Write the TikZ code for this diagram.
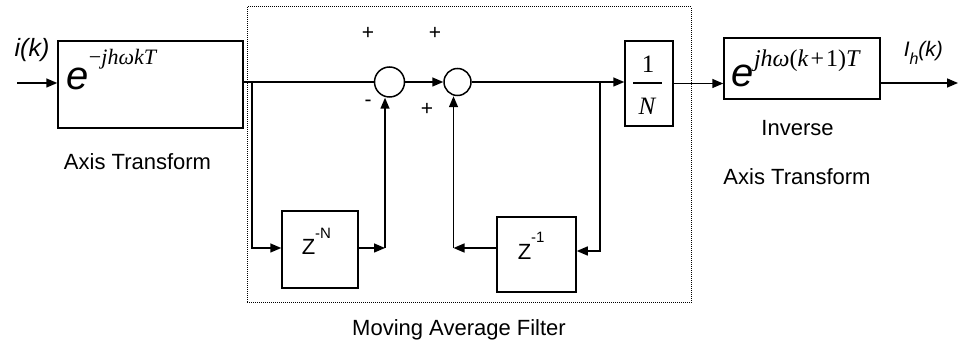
\documentclass[tikz,border=0pt]{standalone}
\usepackage{fontspec}
\setmainfont{Liberation Sans}
\newfontfamily\serifrm{Liberation Serif}
\usetikzlibrary{arrows.meta}
\begin{document}
\begin{tikzpicture}[x=1pt,y=-1pt,
  line width=1.5pt,
  arr/.style={-{Triangle[length=11pt,width=9pt]}},
  blk/.style={draw, line width=1.5pt, inner sep=0pt},
  sumc/.style={draw, circle, line width=1.5pt, inner sep=0pt},
  lbl/.style={font=\fontsize{22}{24}\selectfont, inner sep=0pt},
  sgn/.style={font=\fontsize{21}{22}\selectfont, inner sep=0pt},
  txt/.style={inner sep=0pt, anchor=base west}]
\useasboundingbox (0,0) rectangle (960,344);

% moving average frame
\node[draw, line width=1pt, dash pattern=on 1pt off 1pt,
      minimum width=444pt, minimum height=296pt, inner sep=0pt] (maf) at (469,155) {};

% blocks
\node[blk, minimum width=185pt, minimum height=87pt] (b1) at (150.5,84.5) {};
\node[blk, minimum width=156pt, minimum height=61pt] (b2) at (802,68.5) {};
\node[blk, minimum width=48pt, minimum height=85pt] (bN) at (649,83.5) {};
\node[blk, minimum width=76pt, minimum height=77pt] (zN) at (320,249.5) {};
\node[blk, minimum width=79pt, minimum height=75pt] (z1) at (536.5,254.5) {};
\node[sumc, minimum size=30pt] (c1) at (389.5,82) {};
\node[sumc, minimum size=27pt] (c2) at (457.5,82) {};

% block contents
\node[txt] (b1t) at (66,90) {{\fontsize{40}{40}\selectfont\itshape e}\raisebox{25pt}{\serifrm\fontsize{22}{22}\selectfont −\itshape jhωkT}};
\node[txt] (b2t) at (731,87) {{\fontsize{40}{40}\selectfont\itshape e}\raisebox{20pt}{\serifrm\fontsize{24}{24}\selectfont \textit{jhω}(\textit{k}\kern2pt+\kern2pt1)\textit{T}}};
\node[inner sep=0pt, anchor=base, font=\serifrm\fontsize{25}{25}\selectfont] (one) at (648,73) {1};
\node[inner sep=0pt, anchor=base, font=\serifrm\fontsize{25}{25}\selectfont\itshape] (enN) at (647,115) {N};
\draw[line width=1.2pt] (633,83) -- (662,83);
\node[txt] (zNt) at (301,255) {{\fontsize{22}{22}\selectfont Z}\raisebox{17pt}{\fontsize{15}{15}\selectfont -N}};
\node[txt] (z1t) at (517,260) {{\fontsize{22}{22}\selectfont Z}\raisebox{17pt}{\fontsize{15}{15}\selectfont -1}};

% connectors
\coordinate (in) at (17,83);
\coordinate (br1) at (252,82);
\coordinate (j1) at (385,248);
\coordinate (br2) at (600,82);
\coordinate (j2) at (453.5,248);
\coordinate (out) at (958,83);

\draw[arr] (in) -- (in -| b1.west);
\draw (b1.east |- c1.west) -- (c1.west);
\draw[arr] (br1) |- ([yshift=1.5pt]zN.west);
\draw[arr] ([yshift=1.5pt]zN.east) -- (j1);
\draw[arr] (j1) -- (j1 |- c1.south);
\draw[arr] (c1.east) -- (c2.west);
\draw[arr] (c2.east) -- (c2.east -| bN.west);
\draw[arr] (br2) |- ([yshift=3.5pt]z1.east);
\draw[arr] ([yshift=6.5pt]z1.west) -- (j2);
\draw[arr] (j2) -- (j2 |- c2.south);
\draw[arr] (bN.east) -- (bN.east -| b2.west);
\draw[arr] (b2.east |- out) -- (out);

% signs
\node[sgn] (p1) at (368,33) {+};
\node[sgn] (p2) at (435,33) {+};
\node[sgn] (m1) at (368,103) {-};
\node[sgn] (p3) at (427,109) {+};

% labels
\node[inner sep=0pt, font=\fontsize{25}{25}\selectfont\itshape] (ik) at (32,50) {i(k)};
\node[inner sep=0pt, anchor=base west, font=\fontsize{21}{21}\selectfont\itshape] (Ih) at (903,57) {I\raisebox{-8pt}{\fontsize{16}{16}\selectfont h}(k)};
\node[lbl] (ax1) at (137.5,162) {Axis Transform};
\node[lbl] (inv) at (797.5,128) {Inverse};
\node[lbl] (ax2) at (797,177) {Axis Transform};
\node[lbl] (mafl) at (459,330) {Moving Average Filter};
\end{tikzpicture}
\end{document}
